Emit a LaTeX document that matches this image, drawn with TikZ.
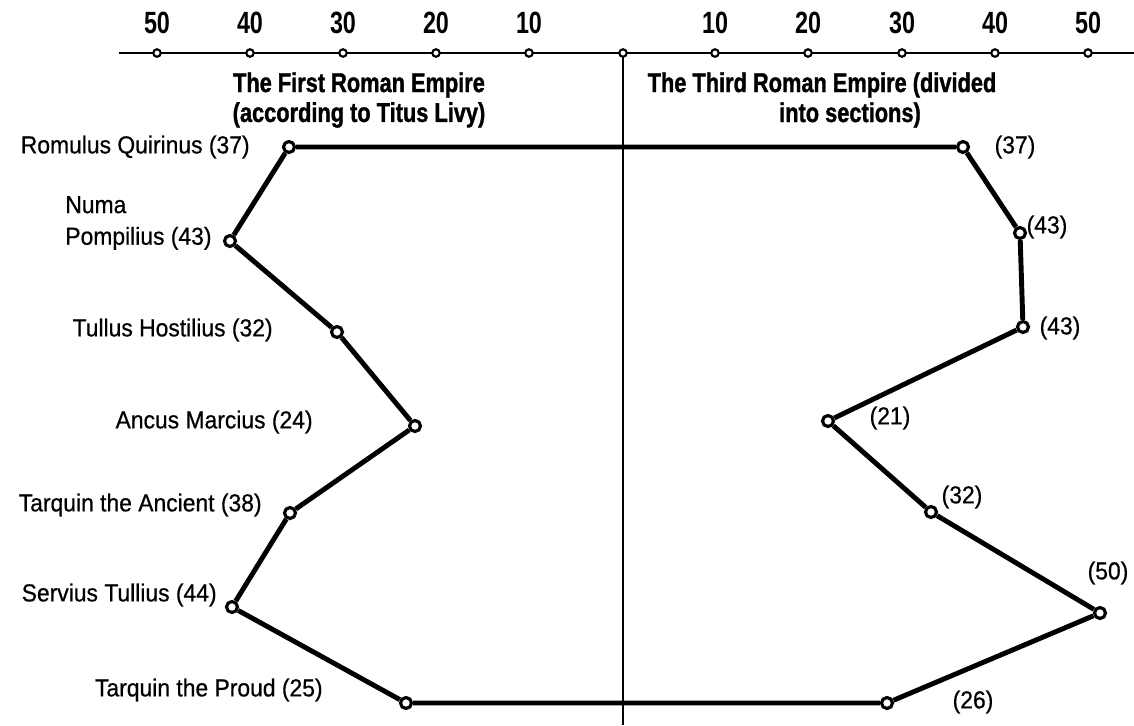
\documentclass[tikz,border=0pt]{standalone}
\usepackage{fontspec}
\setmainfont{Liberation Sans}[FakeStretch=0.93, FakeBold=0.6]
\newfontfamily\numfont{Liberation Sans Bold}[FakeStretch=0.76]
\newfontfamily\titlefont{Liberation Sans Bold}[FakeStretch=0.8, FakeBold=1.2]
\usepackage{tikz}

\begin{document}
\begin{tikzpicture}[x=0.02cm, y=-0.02cm,
    reign/.style={line width=2.8pt, line join=round},
    axis/.style={line width=1.2pt},
    pt/.style={circle, draw, fill=white, line width=1.8pt, inner sep=0pt, minimum size=0.22cm},
    tk/.style={circle, draw, fill=white, line width=1.2pt, inner sep=0pt, minimum size=0.15cm},
    lbl/.style={font=\fontsize{14}{18}\selectfont, inner sep=0pt},
    ttl/.style={font=\titlefont\fontsize{15.5}{17}\selectfont, inner sep=0pt},
    num/.style={font=\numfont\fontsize{17.5}{20}\selectfont, inner sep=0pt}]
    \useasboundingbox (0,0) rectangle (1134,725);

    % Scale
    \coordinate (axL) at (119,53);
    \coordinate (axR) at (1134,53);
    \coordinate (bot) at (623,725);
    \draw[axis] (axL) -- (axR);
    \draw[axis] (623,53) -- (bot);
    \node[tk] (t0) at (623,53) {};
    \foreach \n/\x in {50/157, 40/250, 30/343, 20/436, 10/529} {
        \node[tk] (tl\n) at (\x,53) {};
        \node[num] (nl\n) at (\x,23) {\n};
    }
    \foreach \n/\x in {10/715, 20/808, 30/902, 40/995, 50/1088} {
        \node[tk] (tr\n) at (\x,53) {};
        \node[num] (nr\n) at (\x,23) {\n};
    }

    % Titles
    \node[ttl, align=center] (first) at (359,100) {The First Roman Empire\\(according to Titus Livy)};
    \node[ttl] (third) at (822,85) {The Third Roman Empire (divided};
    \node[ttl] (thirdb) at (850,115) {into sections)};

    % First Empire (Livy)
    \node[pt] (l1) at (289,147) {};
    \node[pt] (l2) at (230,241) {};
    \node[pt] (l3) at (337,332) {};
    \node[pt] (l4) at (415,426) {};
    \node[pt] (l5) at (290,513) {};
    \node[pt] (l6) at (232,607) {};
    \node[pt] (l7) at (406,703) {};

    % Third Empire (sections)
    \node[pt] (r1) at (963,147) {};
    \node[pt] (r2) at (1020,233) {};
    \node[pt] (r3) at (1023,327) {};
    \node[pt] (r4) at (828,421) {};
    \node[pt] (r5) at (931,512) {};
    \node[pt] (r6) at (1100,613) {};
    \node[pt] (r7) at (887,703) {};

    \draw[reign] (l1) -- (l2) -- (l3) -- (l4) -- (l5) -- (l6) -- (l7) -- (r7)
        -- (r6) -- (r5) -- (r4) -- (r3) -- (r2) -- (r1) -- (l1);

    % Kings
    \node[lbl, anchor=east] (k1) at (250,147) {Romulus Quirinus (37)};
    \node[lbl, anchor=west, align=left] (k2) at (65,223) {Numa\\Pompilius (43)};
    \node[lbl, anchor=east] (k3) at (273,330) {Tullus Hostilius (32)};
    \node[lbl, anchor=east] (k4) at (313,422) {Ancus Marcius (24)};
    \node[lbl, anchor=east] (k5) at (262,505) {Tarquin the Ancient (38)};
    \node[lbl, anchor=east] (k6) at (217,595) {Servius Tullius (44)};
    \node[lbl, anchor=east] (k7) at (323,690) {Tarquin the Proud (25)};

    % Sections
    \node[lbl] (s1) at (1015,147) {(37)};
    \node[lbl] (s2) at (1047,227) {(43)};
    \node[lbl] (s3) at (1060,328) {(43)};
    \node[lbl] (s4) at (890,418) {(21)};
    \node[lbl] (s5) at (962,497) {(32)};
    \node[lbl] (s6) at (1108,573) {(50)};
    \node[lbl] (s7) at (973,702) {(26)};
\end{tikzpicture}
\end{document}
